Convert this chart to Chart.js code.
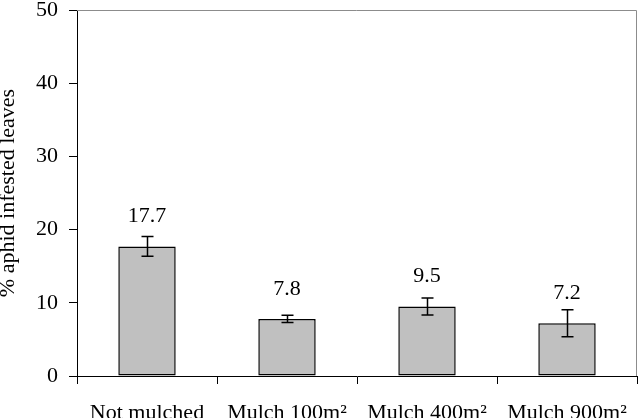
<!DOCTYPE html>
<html>
<head>
<meta charset="utf-8">
<script src="https://cdn.jsdelivr.net/npm/chart.js@4/dist/chart.umd.min.js"></script>
<style>
html,body{margin:0;padding:0;background:#fff;}
canvas{display:block;}
</style>
</head>
<body>
<canvas id="c" width="644" height="418"></canvas>
<script>
const categories = ["Not mulched", "Mulch 100m\u00B2", "Mulch 400m\u00B2", "Mulch 900m\u00B2"];
const values = [17.7, 7.8, 9.5, 7.2];
const errors = [1.35, 0.5, 1.15, 1.85];
const valueLabels = ["17.7", "7.8", "9.5", "7.2"];
const yTicks = [0, 10, 20, 30, 40, 50];
const yTitle = "% aphid infested leaves";

const FONT = "'Liberation Serif', 'Times New Roman', Times, serif";

const decor = {
  id: 'decor',
  afterDatasetsDraw(chart) {
    const ctx = chart.ctx;
    const a = chart.chartArea;
    const y = chart.scales.y;
    const meta = chart.getDatasetMeta(0);
    ctx.save();
    ctx.strokeStyle = '#8c8c8c';
    ctx.lineWidth = 1;
    ctx.beginPath();
    ctx.moveTo(a.left, a.top + 0.5);
    ctx.lineTo(a.right - 0.5, a.top + 0.5);
    ctx.lineTo(a.right - 0.5, a.bottom);
    ctx.stroke();
    ctx.strokeStyle = '#000';
    ctx.lineWidth = 1.5;
    meta.data.forEach((bar, i) => {
      const x = Math.round(bar.x) + 0.5;
      const yt = y.getPixelForValue(values[i] + errors[i]);
      const yb = y.getPixelForValue(values[i] - errors[i]);
      ctx.beginPath();
      ctx.moveTo(x, yt); ctx.lineTo(x, yb);
      ctx.moveTo(x - 6, yt); ctx.lineTo(x + 6, yt);
      ctx.moveTo(x - 6, yb); ctx.lineTo(x + 6, yb);
      ctx.stroke();
    });
    ctx.fillStyle = '#000';
    ctx.font = '22px ' + FONT;
    ctx.textAlign = 'center';
    ctx.textBaseline = 'alphabetic';
    meta.data.forEach((bar, i) => {
      ctx.fillText(valueLabels[i], bar.x, bar.y - 24);
    });
    ctx.restore();
  }
};

function build() {
  new Chart(document.getElementById('c'), {
    type: 'bar',
    data: {
      labels: categories,
      datasets: [{
        data: values,
        backgroundColor: '#c0c0c0',
        borderColor: '#000',
        borderWidth: 1.5,
        borderSkipped: false,
        categoryPercentage: 1,
        barPercentage: 0.41
      }]
    },
    options: {
      responsive: false,
      animation: false,
      devicePixelRatio: 1,
      layout: { padding: { top: 10, right: 7, left: 0, bottom: 0 } },
      plugins: { legend: { display: false }, tooltip: { enabled: false } },
      scales: {
        x: {
          afterFit(s) { s.height = 42; s.paddingLeft = 0; s.paddingRight = 0; },
          grid: { display: true, drawOnChartArea: false, drawTicks: true, tickLength: 8, color: '#000', offset: true },
          border: { display: true, color: '#000', width: 1 },
          ticks: { color: '#000', font: { family: FONT, size: 22 }, padding: 16, maxRotation: 0, autoSkip: false }
        },
        y: {
          min: 0, max: 50,
          afterBuildTicks(s) { s.ticks = yTicks.map(v => ({ value: v })); },
          afterFit(s) { s.width = 77; s.paddingTop = 0; s.paddingBottom = 0; },
          grid: { display: true, drawOnChartArea: false, drawTicks: true, tickLength: 8, color: '#000' },
          border: { display: true, color: '#000', width: 1 },
          ticks: { color: '#000', font: { family: FONT, size: 22 }, padding: 11 },
          title: { display: true, text: yTitle, color: '#000', font: { family: FONT, size: 22, lineHeight: 1 }, padding: { top: -3, bottom: 0 } }
        }
      }
    },
    plugins: [decor]
  });
}

if (document.fonts && document.fonts.load) {
  document.fonts.load("22px 'Liberation Serif'").then(build, build);
} else {
  build();
}
</script>
</body>
</html>
